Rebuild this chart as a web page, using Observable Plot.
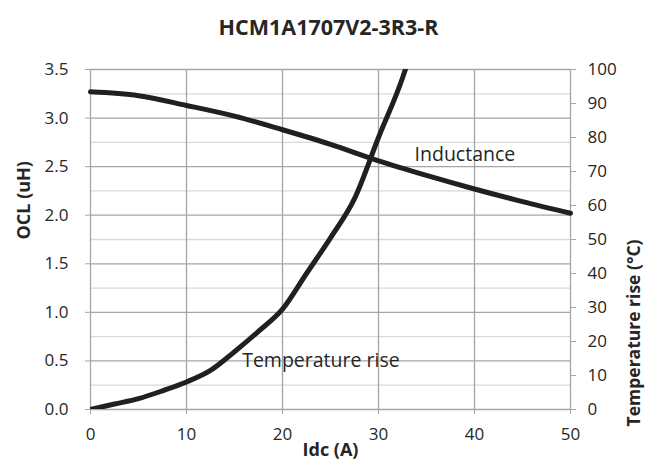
<!DOCTYPE html>
<html><head><meta charset="utf-8">
<script src="https://cdn.jsdelivr.net/npm/d3@7"></script>
<script src="https://cdn.jsdelivr.net/npm/@observablehq/plot@0.6"></script>
<style>body{margin:0;background:#fff;}</style>
</head><body><div id="chart"></div>
<script>
const title = "HCM1A1707V2-3R3-R";
const xLabel = "Idc (A)";
const yLabel = "OCL (uH)";
const y2Label = "Temperature rise (°C)";

// Inductance curve
const indIdc = [0, 5, 10, 15, 20, 25, 30, 35, 40, 45, 50];
const indOCL = [3.27, 3.23, 3.13, 3.02, 2.88, 2.73, 2.56, 2.41, 2.27, 2.14, 2.02];

// Temperature rise curve
const tempIdc = [0, 2.5, 5, 7.5, 10, 12.5, 15, 17.5, 20, 22.5, 25, 27.5, 30, 32.5, 32.8];
const tempRise = [0, 1.6, 3.2, 5.5, 8.1, 11.5, 17, 23, 29.5, 40, 50.5, 62, 80, 97.5, 100];

const xTicks = [0, 10, 20, 30, 40, 50];
const yTicks = [0, 0.5, 1.0, 1.5, 2.0, 2.5, 3.0, 3.5];
const yMinor = [0.25, 0.75, 1.25, 1.75, 2.25, 2.75, 3.25];
const tTicks = [0, 10, 20, 30, 40, 50, 60, 70, 80, 90, 100];

const labels = [
  {text: "Inductance", x: 39, y: 2.625},
  {text: "Temperature rise", x: 24, y: 0.5}
];

const yMax = 3.5, tMax = 100;
const toY = t => t * yMax / tMax;

const inductance = indIdc.map((x, i) => ({x, y: indOCL[i]}));
const temperature = tempIdc.map((x, i) => ({x, y: toY(tempRise[i])}));

const font = "'Open Sans', sans-serif";
const major = "#a6a6a6", minor = "#d9d9d9", ink = "#231f20", txt = "#262626";

const chart = Plot.plot({
  width: 656,
  height: 466,
  marginTop: 69,
  marginLeft: 90,
  marginRight: 86,
  marginBottom: 57,
  style: {fontFamily: font, color: txt, background: "#fff"},
  x: {domain: [0, 50]},
  y: {domain: [0, yMax]},
  marks: [
    Plot.ruleY(yMinor, {stroke: minor, strokeWidth: 1.3}),
    Plot.ruleY(yTicks, {stroke: major, strokeWidth: 1.3}),
    Plot.ruleX(xTicks, {stroke: major, strokeWidth: 1.3}),
    Plot.axisX(xTicks, {tickSize: 5, tickPadding: 13, stroke: major, fontSize: 17, label: null, fill: txt}),
    Plot.axisY(yTicks, {tickSize: 5, tickPadding: 17, stroke: major, fontSize: 17, label: null, tickFormat: d => d.toFixed(1), fill: txt}),
    Plot.axisY(tTicks.map(toY), {anchor: "right", tickSize: 5, tickPadding: 12, stroke: major, fontSize: 17, label: null, tickFormat: d => Math.round(d * tMax / yMax), fill: txt}),
    Plot.line(inductance, {x: "x", y: "y", stroke: ink, strokeWidth: 5, curve: "monotone-x"}),
    Plot.line(temperature, {x: "x", y: "y", stroke: ink, strokeWidth: 5, curve: "monotone-x", clip: true}),
    Plot.text(labels, {x: "x", y: "y", text: "text", fontSize: 19.5, fill: txt}),
    Plot.text([title], {frameAnchor: "top", dy: -50, dx: -2, fontSize: 21.5, fontWeight: "bold", fill: txt}),
    Plot.text([yLabel], {frameAnchor: "left", dx: -66, rotate: -90, fontSize: 18, fontWeight: "bold", fill: txt}),
    Plot.text([y2Label], {frameAnchor: "right", dx: 64, rotate: -90, fontSize: 17.5, fontWeight: "bold", fill: txt}),
    Plot.text([xLabel], {frameAnchor: "bottom", dy: 46, fontSize: 18, fontWeight: "bold", fill: txt})
  ]
});
document.getElementById("chart").append(chart);
</script>
</body></html>
